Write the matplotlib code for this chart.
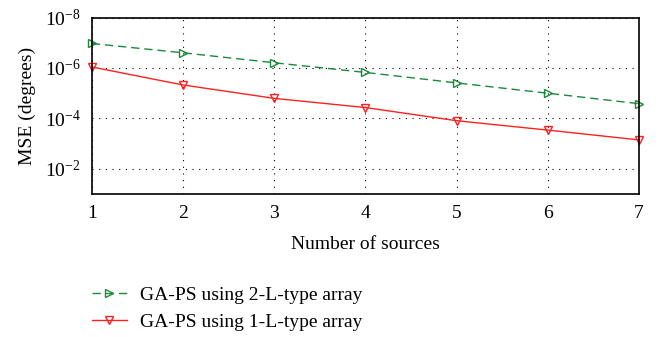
import numpy as np
import matplotlib
matplotlib.use('Agg')
import matplotlib.pyplot as plt
from matplotlib.ticker import NullLocator

plt.rcParams['font.family'] = ['Liberation Serif', 'DejaVu Serif']
plt.rcParams['mathtext.fontset'] = 'stix'

sources = [1, 2, 3, 4, 5, 6, 7]
mse_2l = [1.07e-7, 2.5e-7, 6.2e-7, 1.5e-6, 3.9e-6, 1.0e-5, 2.6e-5]
mse_1l = [9.1e-7, 4.7e-6, 1.6e-5, 3.7e-5, 1.23e-4, 2.9e-4, 7.1e-4]
label_2l = 'GA-PS using 2-L-type array'
label_1l = 'GA-PS using 1-L-type array'

fig = plt.figure(figsize=(6.6, 3.37), dpi=100)
ax = fig.add_axes([0.139, 0.424, 0.829, 0.524])

ax.plot(sources, mse_2l, color='#1a8a3a', linestyle=(0, (6, 3.5)), marker='>',
        markerfacecolor='none', markersize=6, linewidth=1, label=label_2l, clip_on=False)
ax.plot(sources, mse_1l, '-', color='#ff2020', marker='v', markerfacecolor='none',
        markersize=6, linewidth=1, label=label_1l, clip_on=False)

ax.set_yscale('log')
ax.set_ylim(1e-1, 1e-8)
ax.set_xlim(1, 7)
ax.set_yticks([1e-8, 1e-6, 1e-4, 1e-2])
ax.yaxis.set_minor_locator(NullLocator())
ax.set_xticks(sources)
ax.grid(True, which='major', linestyle=(0, (1, 5)), color='black', linewidth=0.8)
ax.tick_params(length=0, labelsize=14, pad=8)
for s in ax.spines.values():
    s.set_linewidth(1.2)

ax.set_xlabel('Number of sources', fontsize=14, labelpad=10)
ax.set_ylabel('MSE (degrees)', fontsize=14, labelpad=6)

fig.legend(loc='upper left', bbox_to_anchor=(0.124, 0.18), frameon=False,
           fontsize=14, handlelength=1.8, handletextpad=0.7, labelspacing=0.5, borderpad=0)

fig.savefig('out.png', dpi=100)
